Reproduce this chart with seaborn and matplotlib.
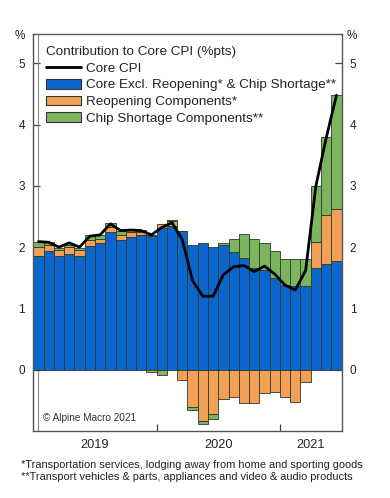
import numpy as np
import pandas as pd
import matplotlib
matplotlib.use("Agg")
import matplotlib.pyplot as plt
from matplotlib.patches import Patch
from matplotlib.lines import Line2D
import seaborn as sns

# ---- data (monthly, Jan 2019 .. Jun 2021) ----
months = pd.date_range("2019-01-01", periods=30, freq="MS").strftime("%Y-%m").tolist()
core_excl = [1.85, 1.93, 1.85, 1.89, 1.85, 2.02, 2.06, 2.25, 2.12, 2.17, 2.20, 2.19,
             2.31, 2.34, 2.26, 2.04, 2.07, 2.01, 2.03, 1.92, 1.82, 1.66, 1.62, 1.49,
             1.39, 1.37, 1.36, 1.66, 1.72, 1.78]
reopening = [0.16, 0.11, 0.10, 0.12, 0.10, 0.09, 0.08, 0.08, 0.08, 0.07, 0.04, -0.03,
             0.06, 0.08, -0.16, -0.60, -0.83, -0.73, -0.47, -0.45, -0.55, -0.55, -0.38, -0.37,
             -0.44, -0.52, -0.20, 0.43, 0.80, 0.84]
chip = [0.08, 0.04, 0.04, 0.03, 0.04, 0.09, 0.06, 0.06, 0.06, 0.04, 0.04, 0.01,
        -0.08, 0.02, 0.00, -0.05, -0.05, -0.07, 0.03, 0.22, 0.40, 0.48, 0.45, 0.45,
        0.42, 0.43, 0.44, 0.90, 1.27, 1.87]
core_cpi = [2.09, 2.08, 2.00, 2.07, 2.00, 2.18, 2.20, 2.38, 2.27, 2.28, 2.27, 2.20,
            2.32, 2.40, 2.12, 1.45, 1.20, 1.20, 1.55, 1.68, 1.70, 1.60, 1.69, 1.56,
            1.38, 1.30, 1.62, 3.00, 3.78, 4.48]
years = ["2019", "2020", "2021"]
yticks = [0, 1, 2, 3, 4, 5]

series_names = ["Core Excl. Reopening* & Chip Shortage**", "Reopening Components*",
                "Chip Shortage Components**"]
colors = ["#0A66CC", "#F2A055", "#7DB55E"]

sns.set_theme(style="white")
plt.rcParams["font.family"] = ["Liberation Sans", "DejaVu Sans"]

fig = plt.figure(figsize=(3.9, 4.98), dpi=100)
ax = fig.add_axes([0.0854, 0.1345, 0.7905, 0.7975])

df = pd.DataFrame({"month": months, "core_excl": core_excl, "reopening": reopening,
                   "chip": chip, "core_cpi": core_cpi})
x = np.arange(len(months))

pos_base = np.zeros(len(x))
neg_base = np.zeros(len(x))
for col, c in zip(["core_excl", "reopening", "chip"], colors):
    v = df[col].to_numpy()
    bottom = np.where(v >= 0, pos_base, neg_base)
    ax.bar(x, v, bottom=bottom, width=1.0, color=c, edgecolor="#2a3a2a",
           linewidth=0.6, zorder=2)
    pos_base = pos_base + np.where(v >= 0, v, 0)
    neg_base = neg_base + np.where(v < 0, v, 0)

sns.lineplot(x=x, y=df["core_cpi"], ax=ax, color="black", linewidth=2.0, zorder=4,
             legend=False)

# decorative inner frame line on the left
ax.axvline(0, color="#888888", lw=0.8, zorder=1)

ax.set_xlim(-0.5, len(x) - 0.5)
ax.set_ylim(-1.0, 5.48)
ax.set_yticks(yticks)
ax.set_yticklabels([str(t) for t in yticks])
ax.tick_params(axis="y", direction="in", length=5, width=0.9, color="#444444",
               left=True, right=True, labelleft=True, labelright=True,
               labelsize=8.5, pad=6, labelcolor="#222222")

# years: labels at centers, ticks at year boundaries
ax.set_xticks([5.5, 17.5, 26.5])
ax.set_xticklabels(years)
ax.set_xticks([11.5, 23.5], minor=True)
ax.tick_params(axis="x", which="major", length=0, labelsize=9.2, pad=6, labelcolor="#222222")
ax.tick_params(axis="x", which="minor", direction="in", length=5, width=0.9,
               color="#444444", bottom=True)
ax.set_xlabel("")
ax.set_ylabel("")

for s in ax.spines.values():
    s.set_color("#555555")
    s.set_linewidth(1.0)

handles = [Line2D([0], [0], color="black", lw=2)] + [
    Patch(facecolor=c, edgecolor="#333333", linewidth=0.8) for c in colors]
labels = ["Core CPI"] + series_names
leg = ax.legend(handles, labels, title="Contribution to Core CPI (%pts)",
                loc="upper left", bbox_to_anchor=(0.005, 0.997), frameon=False,
                fontsize=9.7, title_fontsize=9.7, handlelength=2.6, handleheight=0.75,
                labelspacing=0.31, handletextpad=0.4, borderpad=0.3)
leg._legend_box.align = "left"
for t in leg.get_texts():
    t.set_color("#222222")

ax.text(0.031, 0.033, "\u00a9 Alpine Macro 2021", transform=ax.transAxes,
        fontsize=7.2, color="#333333", va="center", ha="left")

fig.text(20 / 390, 1 - 36 / 498, "%", fontsize=8.5, ha="center", va="center", color="#222222")
fig.text(352 / 390, 1 - 36 / 498, "%", fontsize=8.5, ha="center", va="center", color="#222222")

fig.text(21 / 390, 1 - 465 / 498,
         "*Transportation services, lodging away from home and sporting goods",
         fontsize=7.9, ha="left", va="center", color="#222222")
fig.text(21 / 390, 1 - 477 / 498,
         "**Transport vehicles & parts, appliances and video & audio products",
         fontsize=7.9, ha="left", va="center", color="#222222")

fig.savefig("out.png", dpi=100)
